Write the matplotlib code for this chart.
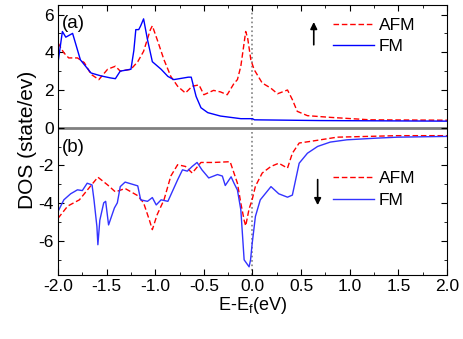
import matplotlib
matplotlib.use('Agg')
import matplotlib.pyplot as plt
from matplotlib.ticker import MultipleLocator

plt.rcParams['font.family'] = ['Liberation Sans', 'DejaVu Sans']

# spin up, FM
e_up_fm = [-2.0, -1.955, -1.92, -1.85, -1.77, -1.66, -1.56, -1.46, -1.41, -1.36, -1.25, -1.22,
           -1.2, -1.17, -1.15, -1.12, -1.08, -1.03, -0.94, -0.87, -0.81, -0.66, -0.63, -0.58,
           -0.53, -0.46, -0.33, -0.12, 0.0, 0.02, 0.7, 2.0]
dos_up_fm = [3.45, 5.1, 4.8, 5.0, 3.6, 2.9, 2.75, 2.64, 2.6, 3.0, 3.1, 4.1,
             5.2, 5.2, 5.4, 5.77, 4.67, 3.5, 3.1, 2.72, 2.55, 2.68, 2.68, 1.66,
             1.06, 0.8, 0.62, 0.48, 0.48, 0.42, 0.38, 0.35]

# spin up, AFM
e_up_afm = [-2.0, -1.94, -1.89, -1.8, -1.73, -1.66, -1.58, -1.49, -1.41, -1.36, -1.25, -1.18,
            -1.12, -1.05, -1.03, -0.98, -0.91, -0.84, -0.77, -0.69, -0.62, -0.55, -0.5, -0.4,
            -0.33, -0.26, -0.19, -0.155, -0.12, -0.086, -0.07, -0.05, -0.017, 0.017, 0.1,
            0.188, 0.257, 0.36, 0.41, 0.46, 0.565, 0.8, 1.21, 2.0]
dos_up_afm = [4.5, 3.97, 3.7, 3.7, 3.45, 2.83, 2.55, 3.1, 3.26, 3.0, 3.1, 3.5,
              4.05, 5.2, 5.4, 4.67, 3.6, 2.72, 2.2, 1.84, 2.2, 2.27, 1.75, 1.98,
              1.9, 1.75, 2.35, 2.55, 3.26, 4.5, 5.1, 4.76, 3.6, 3.08, 2.37,
              2.1, 1.8, 2.0, 1.49, 0.87, 0.64, 0.55, 0.42, 0.4]

# spin down, FM
e_dn_fm = [-2.0, -1.94, -1.87, -1.8, -1.75, -1.7, -1.65, -1.63, -1.6, -1.59, -1.57, -1.53,
           -1.51, -1.48, -1.42, -1.39, -1.36, -1.31, -1.18, -1.15, -1.08, -1.03, -0.99, -0.94,
           -0.87, -0.77, -0.72, -0.67, -0.62, -0.57, -0.52, -0.45, -0.36, -0.31, -0.28, -0.22,
           -0.19, -0.155, -0.12, -0.086, -0.035, -0.02, -0.003, 0.03, 0.08, 0.19, 0.27, 0.36,
           0.41, 0.48, 0.565, 0.67, 0.8, 0.97, 1.28, 1.49, 2.0]
dos_dn_fm = [-4.44, -3.82, -3.5, -3.29, -3.33, -2.94, -3.03, -3.82, -5.24, -6.2, -4.9, -3.98,
             -3.9, -5.15, -4.25, -3.98, -3.12, -2.88, -3.08, -3.82, -3.9, -3.7, -4.09, -3.82,
             -3.9, -2.76, -2.23, -2.3, -2.05, -1.84, -2.23, -2.66, -2.48, -2.56, -3.06, -2.6,
             -2.94, -3.3, -4.35, -7.0, -7.37, -7.0, -6.12, -4.7, -3.82, -3.12, -3.5, -3.68,
             -3.57, -1.88, -1.35, -0.99, -0.76, -0.64, -0.55, -0.5, -0.46]

# spin down, AFM
e_dn_afm = [-2.0, -1.9, -1.78, -1.67, -1.59, -1.49, -1.41, -1.31, -1.18, -1.12, -1.06, -1.03,
            -0.98, -0.91, -0.84, -0.77, -0.69, -0.62, -0.53, -0.4, -0.23, -0.155, -0.12, -0.086,
            -0.07, -0.035, -0.003, 0.03, 0.1, 0.19, 0.27, 0.36, 0.41, 0.48, 0.6, 0.87, 1.49, 2.0]
dos_dn_afm = [-4.8, -4.15, -3.82, -3.12, -2.62, -3.03, -3.4, -3.22, -3.6, -3.98, -4.9, -5.4,
              -4.6, -3.82, -2.56, -1.96, -2.05, -2.4, -1.84, -1.84, -1.8, -2.94, -4.0, -4.9,
              -5.2, -4.3, -3.8, -3.1, -2.4, -2.05, -1.88, -2.14, -1.35, -0.81, -0.72, -0.5, -0.42, -0.42]

fig = plt.figure(figsize=(4.63, 3.39), dpi=100)
ax = fig.add_axes([0.1253, 0.189, 0.8401, 0.796])

ax.axhline(0, color='#808080', lw=2, zorder=1)
ax.axvline(0, color='#808080', lw=1.2, ls=':', zorder=1)

# spin up
l1, = ax.plot(e_up_afm, dos_up_afm, color='red', ls='--', lw=1, dashes=(4, 2))
l2, = ax.plot(e_up_fm, dos_up_fm, color='blue', lw=1)
# spin down
l3, = ax.plot(e_dn_afm, dos_dn_afm, color='red', ls='--', lw=1, dashes=(4, 2))
l4, = ax.plot(e_dn_fm, dos_dn_fm, color='#3333ff', lw=1)

ax.set_xlim(-2.0, 2.0)
ax.set_ylim(-7.8, 6.5)
ax.xaxis.set_minor_locator(MultipleLocator(0.25))
ax.yaxis.set_minor_locator(MultipleLocator(1))
ax.set_xticks([-2.0, -1.5, -1.0, -0.5, 0.0, 0.5, 1.0, 1.5, 2.0])
ax.set_xticklabels(['-2.0', '-1.5', '-1.0', '-0.5', '0.0', '0.5', '1.0', '1.5', '2.0'])
ax.set_yticks([-6, -4, -2, 0, 2, 4, 6])
ax.set_yticklabels(['-6', '-4', '-2', '0', '2', '4', '6'])
ax.tick_params(which='both', direction='in', top=True, right=True, labelsize=12.5)
ax.tick_params(which='major', length=4, pad=3)
ax.tick_params(which='minor', length=2.5)

ax.set_xlabel('E-E$_\\mathregular{f}$(eV)', fontsize=13, labelpad=1)
ax.set_ylabel('DOS (state/ev)', fontsize=15, labelpad=1)

ax.text(-1.96, 5.55, '(a)', fontsize=13.5, va='center')
ax.text(-1.96, -1.04, '(b)', fontsize=13.5, va='center')

ax.annotate('', xy=(0.63, 5.75), xytext=(0.63, 4.25),
            arrowprops=dict(arrowstyle='-|>', color='black', lw=1.2, mutation_scale=10))
ax.annotate('', xy=(0.67, -4.25), xytext=(0.67, -2.6),
            arrowprops=dict(arrowstyle='-|>', color='black', lw=1.2, mutation_scale=10))

leg1 = ax.legend([l1, l2], ['AFM', 'FM'], loc='upper left', bbox_to_anchor=(0.675, 0.997),
                 frameon=False, fontsize=12.5, handlelength=2.35, handletextpad=0.3,
                 labelspacing=0.35, borderpad=0.2)
ax.add_artist(leg1)
ax.legend([l3, l4], ['AFM', 'FM'], loc='upper left', bbox_to_anchor=(0.675, 0.43),
          frameon=False, fontsize=12.5, handlelength=2.35, handletextpad=0.3,
          labelspacing=0.4, borderpad=0.2)

fig.savefig('out.png', dpi=100)
